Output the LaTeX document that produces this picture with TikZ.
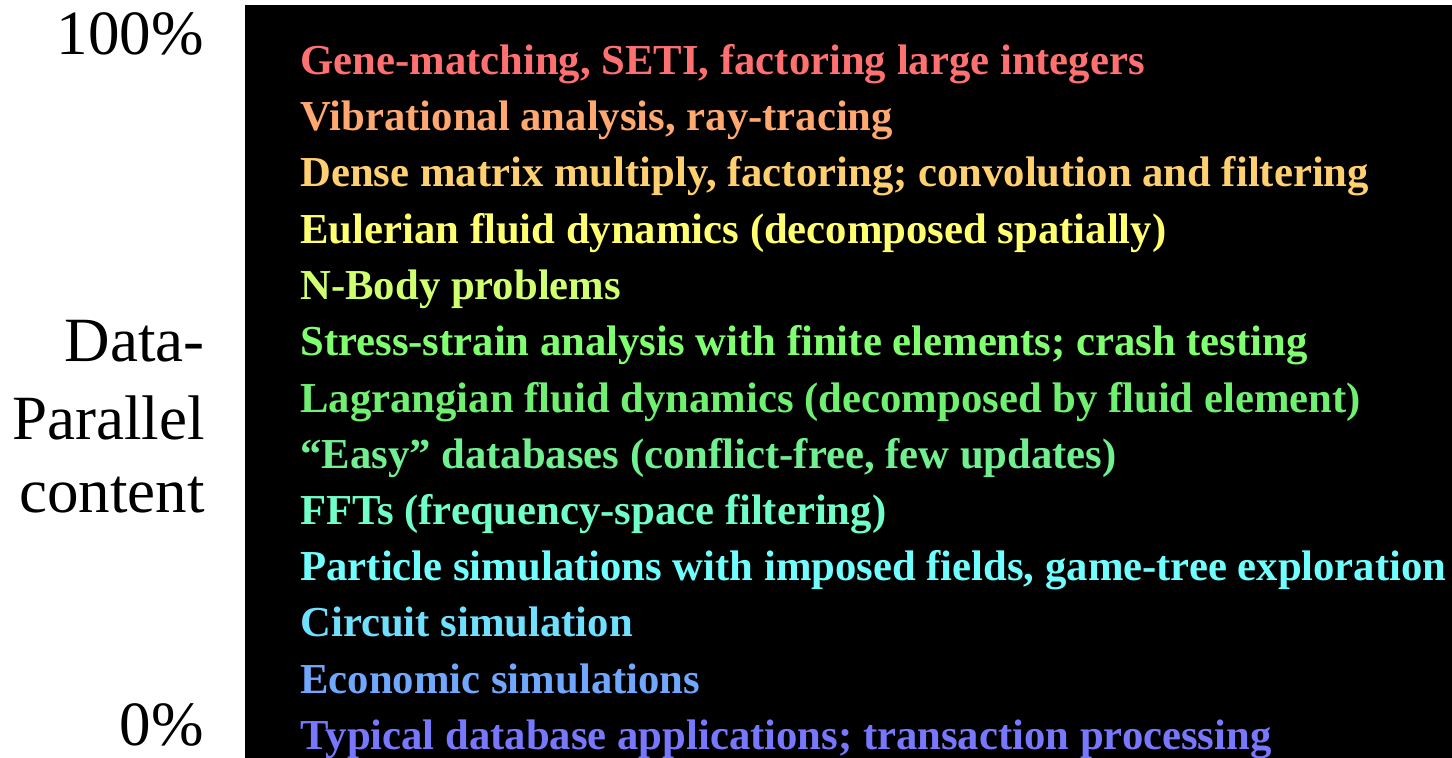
\documentclass[tikz,border=0pt]{standalone}
\usepackage{fontspec}
\setmainfont{Liberation Serif}
\definecolor{appA}{HTML}{FF7070}
\definecolor{appB}{HTML}{FFA870}
\definecolor{appC}{HTML}{FFD070}
\definecolor{appD}{HTML}{FFFF70}
\definecolor{appE}{HTML}{D0FF70}
\definecolor{appF}{HTML}{80FF70}
\definecolor{appG}{HTML}{70F070}
\definecolor{appH}{HTML}{70F090}
\definecolor{appI}{HTML}{70FFC8}
\definecolor{appJ}{HTML}{70FFFF}
\definecolor{appK}{HTML}{70E0FF}
\definecolor{appL}{HTML}{70A8FF}
\definecolor{appM}{HTML}{7878FF}
\tikzset{
  app/.style={anchor=base west,inner sep=0pt,font=\fontsize{21.35}{25}\selectfont\bfseries},
  axis/.style={anchor=base east,inner sep=0pt,font=\fontsize{31.5}{37}\selectfont}
}
\begin{document}
\begin{tikzpicture}[x=0.5pt,y=-0.5pt]
\useasboundingbox (0,0) rectangle (1452,758);
\fill[black] (245,5) rectangle (1452,758);
% axis labels
\node[axis] (top) at (204,55) {100\%};
\node[axis] (mid1) at (205,362) {Data-};
\node[axis] (mid2) at (205,440) {Parallel};
\node[axis] (mid3) at (205,513) {content};
\node[axis] (bot) at (204,746) {0\%};
% applications
\node[app,appA] (a1) at (300,75) {Gene-matching, SETI, factoring large integers};
\node[app,appB] (a2) at (300,131) {Vibrational analysis, ray-tracing};
\node[app,appC] (a3) at (300,187) {Dense matrix multiply, factoring; convolution and filtering};
\node[app,appD] (a4) at (300,244) {Eulerian fluid dynamics (decomposed spatially)};
\node[app,appE] (a5) at (300,300) {N-Body problems};
\node[app,appF] (a6) at (300,356) {Stress-strain analysis with finite elements; crash testing};
\node[app,appG] (a7) at (300,413) {Lagrangian fluid dynamics (decomposed by fluid element)};
\node[app,appH] (a8) at (300,469) {``Easy'' databases (conflict-free, few updates)};
\node[app,appI] (a9) at (300,525) {FFTs (frequency-space filtering)};
\node[app,appJ] (a10) at (300,581) {Particle simulations with imposed fields, game-tree exploration};
\node[app,appK] (a11) at (300,637) {Circuit simulation};
\node[app,appL] (a12) at (300,694) {Economic simulations};
\node[app,appM] (a13) at (300,750) {Typical database applications; transaction processing};
\end{tikzpicture}
\end{document}
